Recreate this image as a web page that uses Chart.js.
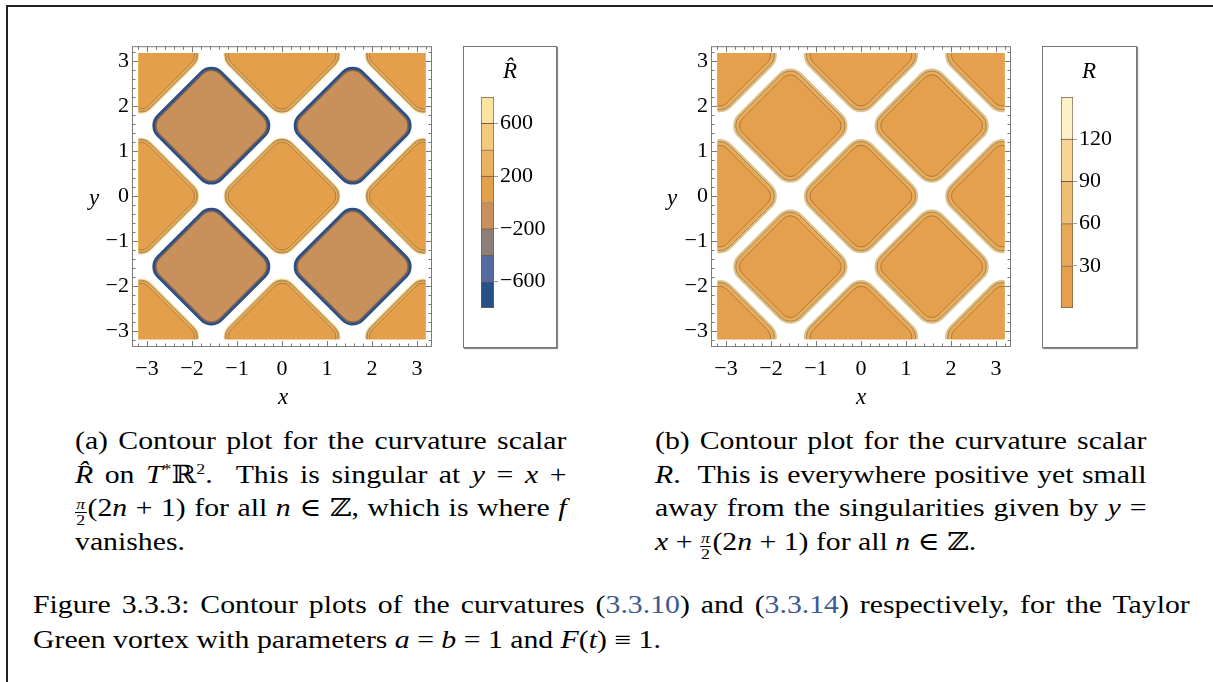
<!DOCTYPE html>
<html>
<head>
<meta charset="utf-8">
<script src="https://cdn.jsdelivr.net/npm/chart.js@4.4.0/dist/chart.umd.min.js"></script>
<style>
  html, body { margin: 0; padding: 0; background: #fff; }
  body { width: 1213px; height: 682px; position: relative; overflow: hidden;
         font-family: 'Liberation Serif', 'DejaVu Serif', serif; color: #000; }
  canvas, .abs { position: absolute; }
  #ruleTop { left: 6px; top: 5px; width: 1207px; border-top: 2px solid #222; }
  #ruleLeft { left: 6px; top: 5px; height: 677px; border-left: 2px solid #222; }
  .lbox { border: 1px solid #777; box-shadow: 1px 1px 1px rgba(0,0,0,.45); background: #fff; }
  .axlab { font-style: italic; font-size: 23px; line-height: 23px; transform: translate(-50%, -50%); }
  .cap { font-size: 25px; transform: scaleX(1.19); transform-origin: 0 0; }
  .cap div { height: 33.7px; line-height: 33.7px; text-align: justify; text-align-last: justify; white-space: nowrap; }
  .cap div.last { text-align-last: left; }
  .figcap div { height: 35px; line-height: 35px; }
  sup { font-size: 15px; line-height: 0; vertical-align: 9px; }
  .frac { display: inline-block; vertical-align: -9px; text-align: center; font-size: 15px; line-height: 15px; margin-right: 1px; }
  .frac span { display: block; padding: 0 1px; }
  .frac span:first-child { border-bottom: 1px solid #000; font-style: italic; }
  .ref { color: #3d5a91; }
</style>
</head>
<body>
<div id="ruleTop" class="abs"></div>
<div id="ruleLeft" class="abs"></div>

<canvas id="plotA" width="370" height="360" style="left:80px;top:30px"></canvas>
<canvas id="plotB" width="370" height="360" style="left:659px;top:30px"></canvas>

<div class="abs axlab" style="left:94px;top:197px">y</div>
<div class="abs axlab" style="left:283px;top:396px">x</div>
<div class="abs axlab" style="left:672px;top:197px">y</div>
<div class="abs axlab" style="left:861px;top:396px">x</div>

<div class="abs lbox" style="left:463px;top:46px;width:92px;height:300px"></div>
<div class="abs lbox" style="left:1042px;top:46px;width:93px;height:300px"></div>
<canvas id="barA" width="91" height="299" style="left:464px;top:47px"></canvas>
<canvas id="barB" width="92" height="299" style="left:1043px;top:47px"></canvas>
<div class="abs axlab" style="left:510px;top:70px">R&#770;</div>
<div class="abs axlab" style="left:1089px;top:70px">R</div>

<div class="abs cap" style="left:75px;top:424px;width:413px">
  <div>(a) Contour plot for the curvature scalar</div>
  <div><i>R&#770;</i> on <i>T</i><sup>*</sup>&#8477;<sup>2</sup>. &nbsp;This is singular at <i>y</i> = <i>x</i> +</div>
  <div><span class="frac"><span>&pi;</span><span>2</span></span>(2<i>n</i> + 1) for all <i>n</i> &isin; &#8484;, which is where <i>f</i></div>
  <div class="last">vanishes.</div>
</div>
<div class="abs cap" style="left:655px;top:424px;width:413px">
  <div>(b) Contour plot for the curvature scalar</div>
  <div><i>R</i>. &nbsp;This is everywhere positive yet small</div>
  <div>away from the singularities given by <i>y</i> =</div>
  <div class="last"><i>x</i> + <span class="frac"><span>&pi;</span><span>2</span></span>(2<i>n</i> + 1) for all <i>n</i> &isin; &#8484;.</div>
</div>
<div class="abs cap figcap" style="left:33px;top:587px;width:972px">
  <div>Figure 3.3.3: Contour plots of the curvatures (<span class="ref">3.3.10</span>) and (<span class="ref">3.3.14</span>) respectively, for the Taylor</div>
  <div class="last">Green vortex with parameters <i>a</i> = <i>b</i> = 1 and <i>F</i>(<i>t</i>) &equiv; 1.</div>
</div>

<script>
// centres of the contour islands
const cellsPosA = [[0, 0], [-3.14, 0], [3.14, 0], [0, 3.14], [0, -3.14],
                   [-3.14, 3.14], [3.14, 3.14], [-3.14, -3.14], [3.14, -3.14]];
const cellsNegA = [[-1.57, 1.57], [1.57, 1.57], [-1.57, -1.57], [1.57, -1.57]];
const cellsB = [[0, 0], [-3.14, 0], [3.14, 0], [0, 3.14], [0, -3.14],
                [-3.14, 3.14], [3.14, 3.14], [-3.14, -3.14], [3.14, -3.14],
                [-1.57, 1.57], [1.57, 1.57], [-1.57, -1.57], [1.57, -1.57]];

const axisTicks = [-3, -2, -1, 0, 1, 2, 3];
const minorTicks = [-3.2, -2.8, -2.6, -2.4, -2.2, -1.8, -1.6, -1.4, -1.2, -0.8, -0.6, -0.4, -0.2,
                    0.2, 0.4, 0.6, 0.8, 1.2, 1.4, 1.6, 1.8, 2.2, 2.4, 2.6, 2.8, 3.2];

// contour levels of the bar legends
const levelsA = [-800, -600, -400, -200, 0, 200, 400, 600, 800];
const levelTicksA = [-600, -200, 200, 600];
const levelsB = [0, 30, 60, 90, 120, 150];
const levelTicksB = [30, 60, 90, 120];

const bandColorsA = ['#25508a', '#5669a0', '#8d7e79', '#c8915c', '#e49f4a', '#ecb261', '#f5c97e', '#fde3a2'];
const bandColorsB = ['#e4a04c', '#e8a956', '#f0be72', '#f8d595', '#fef2c4'];

const DOMAIN = 3.19;      // extent of the sampled region
const tickFont = { family: "'Liberation Serif', serif", size: 22 };
const fmt = v => (v < 0 ? '\u2212' + (-v) : String(v));

// island shapes: apex distance, corner radius and ring insets (data units)
const shapePosA = { apex: 1.30, corner: 0.34, rings: [
  { d: 0, color: bandColorsA[7] }, { d: 0.03, color: bandColorsA[6] },
  { d: 0.05, color: bandColorsA[5] }, { d: 0.10, color: bandColorsA[4] }] };
const shapeNegA = { apex: 1.31, corner: 0.34, rings: [
  { d: 0, color: bandColorsA[0] }, { d: 0.045, color: bandColorsA[1] },
  { d: 0.065, color: bandColorsA[2] }, { d: 0.085, color: bandColorsA[3] }] };
const shapeB = { apex: 1.27, corner: 0.36, rings: [
  { d: 0, color: '#dcc28c' }, { d: 0.055, color: '#e9ab59' }, { d: 0.14, color: bandColorsB[0] }] };

function diamondPath(ctx, x, y, c, r) {
  ctx.beginPath();
  ctx.arc(x, y - c, r, -0.75 * Math.PI, -0.25 * Math.PI);
  ctx.arc(x + c, y, r, -0.25 * Math.PI, 0.25 * Math.PI);
  ctx.arc(x, y + c, r, 0.25 * Math.PI, 0.75 * Math.PI);
  ctx.arc(x - c, y, r, 0.75 * Math.PI, 1.25 * Math.PI);
  ctx.closePath();
}

const cellsPlugin = {
  id: 'cells',
  beforeDatasetsDraw(chart) {
    const { ctx, scales: { x, y } } = chart;
    const u = Math.abs(x.getPixelForValue(1) - x.getPixelForValue(0));
    const L = x.getPixelForValue(-DOMAIN), R = x.getPixelForValue(DOMAIN);
    const T = y.getPixelForValue(DOMAIN), B = y.getPixelForValue(-DOMAIN);
    ctx.save();
    ctx.beginPath();
    ctx.rect(L, T, R - L, B - T);
    ctx.clip();
    chart.data.datasets.forEach((ds, i) => {
      const shape = ds.shape;
      chart.getDatasetMeta(i).data.forEach(pt => {
        shape.rings.forEach((ring, k) => {
          const r = (shape.corner - ring.d) * u;
          const c = (shape.apex - shape.corner) * u;
          diamondPath(ctx, pt.x, pt.y, c, r);
          ctx.fillStyle = ring.color;
          ctx.fill();
          if (k > 0) {
            ctx.strokeStyle = 'rgba(70,45,20,0.45)';
            ctx.lineWidth = 0.8;
            ctx.stroke();
          }
        });
      });
    });
    ctx.restore();
  }
};

const framePlugin = {
  id: 'frame',
  afterDatasetsDraw(chart) {
    const { ctx, chartArea: a, scales: { x, y } } = chart;
    ctx.save();
    ctx.strokeStyle = '#7a7a7a';
    ctx.lineWidth = 1;
    ctx.strokeRect(a.left + 0.5, a.top + 0.5, a.right - a.left - 1, a.bottom - a.top - 1);
    const marks = (vals, len) => vals.forEach(v => {
      const px = Math.round(x.getPixelForValue(v)) + 0.5;
      const py = Math.round(y.getPixelForValue(v)) + 0.5;
      ctx.beginPath();
      ctx.moveTo(px, a.bottom); ctx.lineTo(px, a.bottom - len);
      ctx.moveTo(px, a.top); ctx.lineTo(px, a.top + len);
      ctx.moveTo(a.left, py); ctx.lineTo(a.left + len, py);
      ctx.moveTo(a.right, py); ctx.lineTo(a.right - len, py);
      ctx.stroke();
    });
    marks(axisTicks, 6);
    marks(minorTicks, 3.5);
    ctx.restore();
  }
};

function contourChart(id, datasets) {
  return new Chart(document.getElementById(id), {
    type: 'scatter',
    data: { datasets },
    options: {
      responsive: false,
      animation: false,
      events: [],
      layout: { padding: { top: 15, right: 18, left: 0, bottom: 0 } },
      plugins: { legend: { display: false }, tooltip: { enabled: false } },
      elements: { point: { radius: 0 } },
      scales: {
        x: {
          type: 'linear', min: -3.333, max: 3.333,
          grid: { display: false, drawTicks: false }, border: { display: false },
          afterBuildTicks: s => { s.ticks = axisTicks.map(v => ({ value: v })); },
          afterFit: s => { s.height = 43; },
          ticks: { padding: 9, color: '#000', font: tickFont, callback: fmt, maxRotation: 0, autoSkip: false }
        },
        y: {
          type: 'linear', min: -3.36, max: 3.34,
          grid: { display: false, drawTicks: false }, border: { display: false },
          afterBuildTicks: s => { s.ticks = axisTicks.map(v => ({ value: v })); },
          afterFit: s => { s.width = 52; },
          ticks: { padding: 3, color: '#000', font: tickFont, callback: fmt, autoSkip: false }
        }
      }
    },
    plugins: [cellsPlugin, framePlugin]
  });
}

const toXY = arr => arr.map(([x, y]) => ({ x, y }));

contourChart('plotA', [
  { label: 'R\u0302 > 0', data: toXY(cellsPosA), shape: shapePosA },
  { label: 'R\u0302 < 0', data: toXY(cellsNegA), shape: shapeNegA }
]);
contourChart('plotB', [
  { label: 'R', data: toXY(cellsB), shape: shapeB }
]);

function levelBar(id, levels, colors, tickVals, padLeft, axisWidth) {
  const datasets = colors.map((col, i) => ({
    data: [[levels[i], levels[i + 1]]],
    backgroundColor: col,
    borderColor: 'rgba(80,55,30,0.8)',
    borderWidth: { left: 1, right: 1, top: 1, bottom: i === 0 ? 1 : 0 },
    borderSkipped: false,
    barPercentage: 1,
    categoryPercentage: 1,
    grouped: false
  }));
  return new Chart(document.getElementById(id), {
    type: 'bar',
    data: { labels: [''], datasets },
    options: {
      responsive: false,
      animation: false,
      events: [],
      layout: { padding: { top: 50, bottom: 38, left: padLeft, right: 0 } },
      plugins: { legend: { display: false }, tooltip: { enabled: false } },
      scales: {
        x: { display: false },
        y: {
          position: 'right',
          min: levels[0], max: levels[levels.length - 1],
          afterBuildTicks: s => { s.ticks = tickVals.map(v => ({ value: v })); },
          afterFit: s => { s.width = axisWidth; },
          grid: { drawOnChartArea: false, drawTicks: true, tickLength: 4, color: '#9a9a9a' },
          border: { display: false },
          ticks: { padding: 2, color: '#000', font: tickFont, callback: fmt, autoSkip: false }
        }
      }
    }
  });
}

levelBar('barA', levelsA, bandColorsA, levelTicksA, 17, 61);
levelBar('barB', levelsB, bandColorsB, levelTicksB, 18, 62);
</script>
</body>
</html>
